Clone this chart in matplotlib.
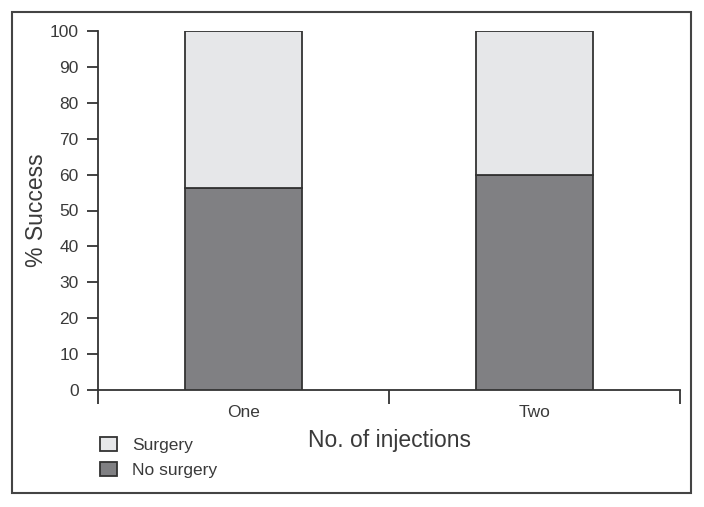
import matplotlib.pyplot as plt
from matplotlib.patches import Rectangle

# data
categories = ["One", "Two"]
no_surgery = [56.2, 59.8]
surgery = [100 - v for v in no_surgery]

plt.rcParams["font.family"] = ["Liberation Sans", "DejaVu Sans"]
text_color = "#3a3a3a"

fig = plt.figure(figsize=(7.04, 5.07), dpi=100)
ax = fig.add_axes([98 / 704, 1 - 390 / 507, 582 / 704, 359 / 507])

x = list(range(len(categories)))
ax.bar(x, no_surgery, width=0.405, color="#808083", edgecolor="#333333",
       linewidth=1.3, label="No surgery", zorder=3)
ax.bar(x, surgery, width=0.405, bottom=no_surgery, color="#e6e7e9",
       edgecolor="#333333", linewidth=1.3, label="Surgery", zorder=3)

ax.set_xlim(-0.5, len(categories) - 0.5)
ax.set_ylim(0, 100)
ax.spines["right"].set_visible(False)
ax.spines["top"].set_visible(False)
for s in ("left", "bottom"):
    ax.spines[s].set_color("#333333")
    ax.spines[s].set_linewidth(1.3)

ax.set_yticks(range(0, 101, 10))
ax.tick_params(axis="y", length=8, width=1.3, color="#333333",
               labelsize=12.5, labelcolor=text_color, pad=6)

# ticks between categories, labels centred in each group
ax.set_xticks([i - 0.5 for i in range(len(categories) + 1)])
ax.set_xticklabels([])
ax.set_xticks(x, minor=True)
ax.set_xticklabels(categories, minor=True)
ax.tick_params(axis="x", which="major", length=10, width=1.3, color="#333333")
ax.tick_params(axis="x", which="minor", length=0, labelsize=12.5,
               labelcolor=text_color, pad=10.5)

ax.set_ylabel("% Success", fontsize=16.5, color=text_color, labelpad=1)
ax.set_xlabel("No. of injections", fontsize=16.5, color=text_color, labelpad=7)

handles, labels = ax.get_legend_handles_labels()
fig.legend(handles[::-1], labels[::-1], loc="upper left",
           bbox_to_anchor=(91 / 704, 1 - 428 / 507), frameon=False,
           fontsize=12.5, labelcolor=text_color, borderpad=0,
           handlelength=1.0, handleheight=0.9, handletextpad=0.85,
           labelspacing=0.5)

# outer frame
fig.patches.append(Rectangle((12 / 704, 1 - 493 / 507), 679 / 704, 481 / 507,
                             transform=fig.transFigure, fill=False,
                             edgecolor="#444444", linewidth=1.5))

fig.savefig("out.png", dpi=100)
